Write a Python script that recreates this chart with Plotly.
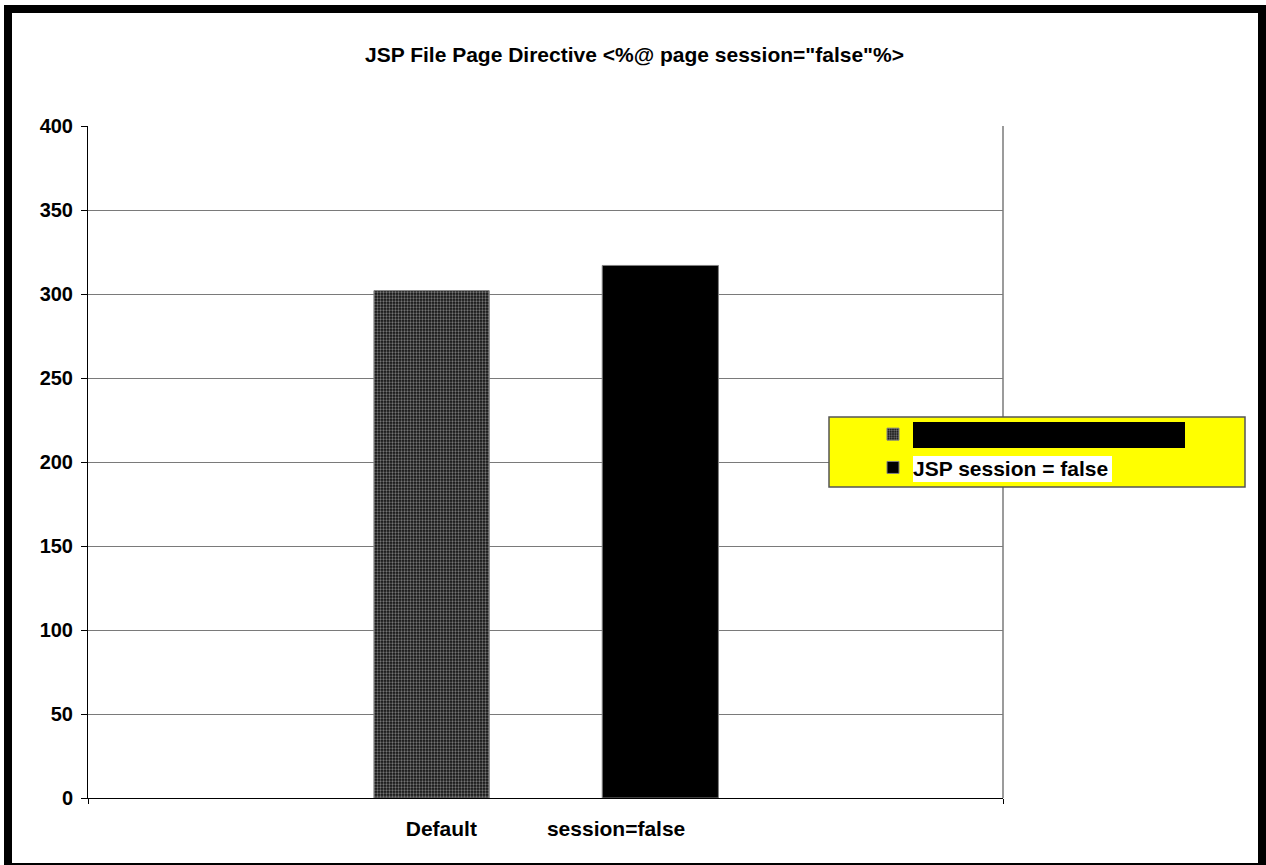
import plotly.graph_objects as go

# ---- data -------------------------------------------------------------
categories = ["Default" + "\u00a0" * 12 + "session=false"]
series_names = ["JSP session=true (Default)", "JSP session = false"]
default_values = [302]
session_false_values = [317]
y_tick_values = [0, 50, 100, 150, 200, 250, 300, 350, 400]

# ---- page geometry (pixels) -------------------------------------------
W, H = 1266, 865
PL, PR, PT, PB = 88, 1003, 126, 798          # plot area edges


def fx(x):
    """pixel x -> paper x"""
    return (x - PL) / (PR - PL)


def fy(y):
    """pixel y -> paper y"""
    return (PB - y) / (PB - PT)


FONT = "Liberation Sans, Arial, sans-serif"
GRID = "#7a7a7a"

fig = go.Figure()

fig.add_trace(go.Bar(
    x=categories, y=default_values, name=series_names[0],
    legendgroup="a",
    width=0.126, offset=-0.1875,
    marker=dict(
        color="#111111",
        line=dict(color="#808080", width=1),
        pattern=dict(shape=".", size=3, solidity=0.45,
                     fgcolor="#d8d8d8", bgcolor="#111111"),
    ),
))
fig.add_trace(go.Bar(
    x=categories, y=session_false_values, name=series_names[1],
    legendgroup="b",
    width=0.127, offset=0.062,
    marker=dict(color="#000000", line=dict(color="#808080", width=1)),
))

shapes = [
    # outer frame
    dict(type="rect", xref="paper", yref="paper", layer="below",
         x0=fx(4), x1=fx(1266), y0=fy(865), y1=fy(5),
         fillcolor="black", line=dict(width=0)),
    dict(type="rect", xref="paper", yref="paper", layer="below",
         x0=fx(12), x1=fx(1258), y0=fy(863), y1=fy(13),
         fillcolor="white", line=dict(width=0)),
    # right edge of the plot area
    dict(type="line", xref="paper", yref="paper", layer="above",
         x0=1, x1=1, y0=0, y1=1, line=dict(color=GRID, width=1.5)),
    # legend panel
    dict(type="rect", xref="paper", yref="paper", layer="above",
         x0=fx(829), x1=fx(1245), y0=fy(487), y1=fy(417),
         fillcolor="#ffff00", line=dict(color="#555555", width=1.5)),
    dict(type="rect", xref="paper", yref="paper", layer="above",
         x0=fx(913), x1=fx(1185), y0=fy(448), y1=fy(422),
         fillcolor="black", line=dict(width=0)),
    dict(type="rect", xref="paper", yref="paper", layer="above",
         x0=fx(913), x1=fx(1112), y0=fy(482), y1=fy(456),
         fillcolor="white", line=dict(width=0)),
]

fig.update_layout(
    width=W, height=H,
    margin=dict(l=PL, r=W - PR, t=PT, b=H - PB, pad=0),
    paper_bgcolor="white", plot_bgcolor="white",
    font=dict(family=FONT, size=21, color="black", weight="bold"),
    title=dict(text='JSP File Page Directive <%@ page session="false"%>',
               xref="container", x=634.5 / W, xanchor="center",
               yref="container", y=1 - 55 / H, yanchor="middle",
               font=dict(size=21, weight="bold")),
    barmode="group",
    showlegend=True,
    legend=dict(x=fx(873), xanchor="left", y=fy(414), yanchor="top",
                bgcolor="rgba(0,0,0,0)", borderwidth=0,
                font=dict(size=21, weight="bold", color="black"),
                traceorder="grouped", tracegroupgap=3),
    shapes=shapes,
    xaxis=dict(type="category", range=[-0.5, 0.5],
               showline=True, linecolor="black", linewidth=1,
               ticks="outside", tickson="boundaries", ticklen=5,
               tickcolor="black", showgrid=False, ticklabelstandoff=12,
               tickfont=dict(size=21, weight="bold")),
    yaxis=dict(range=[0, 400], tickvals=y_tick_values,
               showline=True, linecolor="black", linewidth=1,
               ticks="outside", ticklen=6, tickcolor="black",
               showgrid=True, gridcolor=GRID, gridwidth=1,
               zeroline=False, ticklabelstandoff=4,
               tickfont=dict(size=20, weight="bold")),
)

fig.write_html("out.html")
